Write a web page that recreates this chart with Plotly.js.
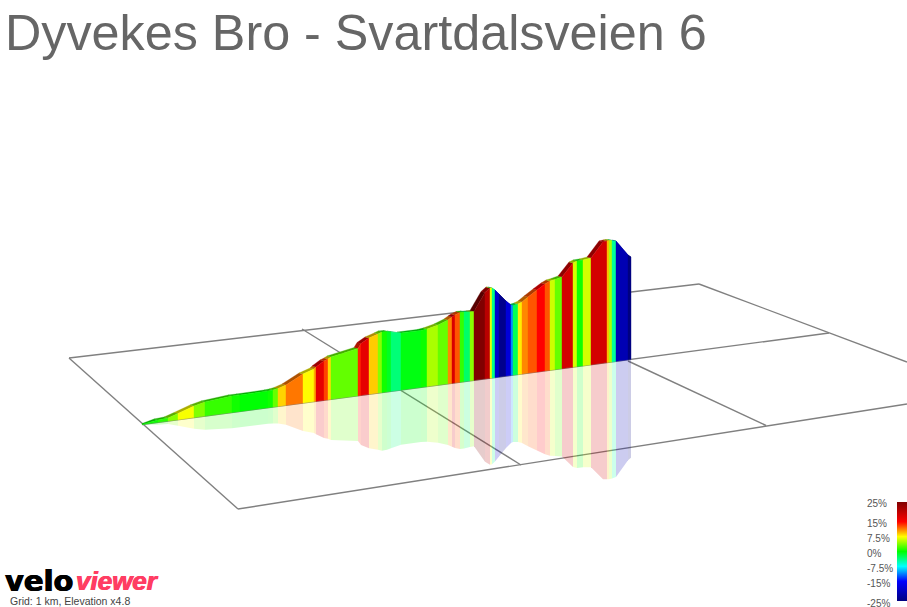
<!DOCTYPE html>
<html><head><meta charset="utf-8">
<script src="https://cdn.plot.ly/plotly-3.0.1.min.js"></script>
<style>html,body{margin:0;padding:0;background:#fff}#chart{width:907px;height:607px}</style>
</head><body><div id="chart"></div>
<script>
const titleText = "Dyvekes Bro - Svartdalsveien 6";
const routeX = [142,158,168,178,194,205,232,240,268,273,278,286,303,314,316,324,328,331,358,361,369,378,382,387,391,401,421,427,438,448,452,455,460,464,470,474,485,490,492,495,499,506,511,513,518,522,528,537,545,550,555,562,573,577,583,591,603,607,609,612,616,628,631];
const profileTop = [424.5,420,418,413.5,406,402,396,395,391,390,388.5,385,374,369,367,361,359,357,348.5,343.5,338,334,332,331.5,332,333,330.5,329,325,320,317,315,312.5,312,312,311.5,292.5,288,288,290,294,301,305,305.5,304,302,297,290,284,281,279.5,277,263,261,260,258,242,241,240.5,240.5,241,255,257];
const gradients = [0.3,1.2,4,7.3,3.8,1.6,0.5,-0.1,0.4,3,8.8,11.5,7.6,10,17,13,8.5,2.9,14,17,9,4,0.5,-1,-3.5,-0.5,0.3,5,3,11,18,12.5,1.5,-3,4,25,20.5,7,-4,-19,-24,-18,-11,-2.5,8,11,12.5,15,12.5,6,3,18.5,6.2,0.5,6.2,18.5,18.5,9.5,5,-4.5,-21,-25];
const scaleStops = [-25,-15,-7.5,0,7.5,15,25];
const scaleColors = ["#000080","#0000ff","#00ffff","#00ff00","#ffff00","#ff0000","#800000"];
const legendLabels = ["25%","15%","7.5%","0%","-7.5%","-15%","-25%"];
const legendValues = [25,15,7.5,0,-7.5,-15,-25];
const gridFarX = [69,699], gridFarY = [358,284];
const gridMidX = [142,829], gridMidY = [424.5,333];
const gridNearX = [238,907], gridNearY = [509,404];
const gridLeftX = [69,238], gridLeftY = [358,509];
const gridD1X = [302,521], gridD1Y = [329,465];
const gridD2X = [628,766], gridD2Y = [361,425.5];
const gridD3X = [699,907], gridD3Y = [284,362];

function hexRgb(h){return [1,3,5].map(i=>parseInt(h.substr(i,2),16));}
function gradRgb(g){
  let i=0; while(i<scaleStops.length-2 && g>scaleStops[i+1]) i++;
  const t=Math.max(0,Math.min(1,(g-scaleStops[i])/(scaleStops[i+1]-scaleStops[i])));
  const a=hexRgb(scaleColors[i]), b=hexRgb(scaleColors[i+1]);
  return a.map((v,k)=>Math.round(v+(b[k]-v)*t));
}
const rgba=(c,a,m=1)=>`rgba(${Math.round(c[0]*m)},${Math.round(c[1]*m)},${Math.round(c[2]*m)},${a})`;
const baseAt=x=>gridMidY[0]+(gridMidY[1]-gridMidY[0])*(x-gridMidX[0])/(gridMidX[1]-gridMidX[0]);

const traces=[];
const GRID={color:"#808080",width:1.4};
[[gridFarX,gridFarY],[gridMidX,gridMidY],[gridNearX,gridNearY],[gridLeftX,gridLeftY],[gridD1X,gridD1Y],[gridD2X,gridD2Y],[gridD3X,gridD3Y]].forEach(g=>{
  traces.push({type:"scatter",mode:"lines",x:g[0],y:g[1],line:GRID,hoverinfo:"skip",showlegend:false});
});
const poly=(xs,ys,fill,line)=>({type:"scatter",mode:"lines",x:[...xs,xs[0]],y:[...ys,ys[0]],fill:"toself",fillcolor:fill,line:line,hoverinfo:"skip",showlegend:false});
const SHIFT_X=4, SHIFT_Y=1, K=0.96;
// reflection
gradients.forEach((g,i)=>{
  const x0=routeX[i],x1=routeX[i+1],c=gradRgb(g),b0=baseAt(x0),b1=baseAt(x1);
  traces.push(poly([x0,x1,x1,x0],[b0,b1,b1+K*(b1-profileTop[i+1]),b0+K*(b0-profileTop[i])],rgba(c,0.2),{width:0}));
});
// top face
gradients.forEach((g,i)=>{
  const x0=routeX[i],x1=routeX[i+1],c=gradRgb(g),t0=profileTop[i],t1=profileTop[i+1];
  const col=rgba(c,1,0.68);
  traces.push(poly([x0,x1,x1-SHIFT_X,Math.max(x0-SHIFT_X,routeX[0])],[t0,t1,t1-SHIFT_Y,t0-SHIFT_Y],col,{width:0.3,color:col}));
});
// front face
gradients.forEach((g,i)=>{
  const x0=routeX[i],x1=routeX[i+1],c=gradRgb(g);
  const col=rgba(c,1);
  traces.push(poly([x0,x1,x1,x0],[profileTop[i],profileTop[i+1],baseAt(x1),baseAt(x0)],col,{width:0.4,color:col}));
});
// colour key
traces.push({type:"scatter",mode:"markers",x:routeX.slice(0,-1),y:profileTop.slice(0,-1),hoverinfo:"skip",showlegend:false,
  marker:{size:1,opacity:0,color:gradients,cmin:-25,cmax:25,showscale:true,
    colorscale:scaleStops.map((s,i)=>[(s+25)/50,scaleColors[i]]),
    colorbar:{x:897/907,xanchor:"left",xpad:0,ypad:0,y:(607-551.5)/607,yanchor:"middle",lenmode:"pixels",len:99,thicknessmode:"pixels",thickness:10,outlinewidth:0,showticklabels:false,ticks:""}}});

const annotations=legendLabels.map((t,i)=>({text:t,x:865,y:553-2*legendValues[i],xref:"x",yref:"y",xanchor:"left",yanchor:"middle",showarrow:false,font:{family:"Liberation Sans",size:10,color:"#555"}}));
annotations.push({text:"Grid: 1 km, Elevation x4.8",x:8,y:601,xref:"x",yref:"y",xanchor:"left",yanchor:"middle",showarrow:false,font:{family:"Liberation Sans",size:10.5,color:"#444"}});
annotations.push({text:"velo",x:3,y:581,xref:"x",yref:"y",xanchor:"left",yanchor:"middle",showarrow:false,font:{family:"DejaVu Sans",size:29,weight:700,color:"#000",shadow:"0.6px 0 0 #000, -0.6px 0 0 #000"}});
annotations.push({text:"viewer",x:74,y:581,xref:"x",yref:"y",xanchor:"left",yanchor:"middle",showarrow:false,font:{family:"Liberation Sans",size:26,weight:700,style:"italic",color:"#ff3d63",shadow:"0.5px 0 0 #ff3d63, -0.5px 0 0 #ff3d63"}});

Plotly.newPlot("chart",traces,{
  width:907,height:607,margin:{l:0,r:0,t:0,b:0,autoexpand:false},
  paper_bgcolor:"#fff",plot_bgcolor:"#fff",showlegend:false,
  title:{text:titleText,x:5/907,xanchor:"left",y:0.976,yanchor:"top",font:{family:"Liberation Sans",size:50.3,color:"#666"}},
  xaxis:{range:[0,907],visible:false,fixedrange:true},
  yaxis:{range:[607,0],visible:false,fixedrange:true},
  annotations:annotations
},{displayModeBar:false,staticPlot:true});
</script></body></html>
